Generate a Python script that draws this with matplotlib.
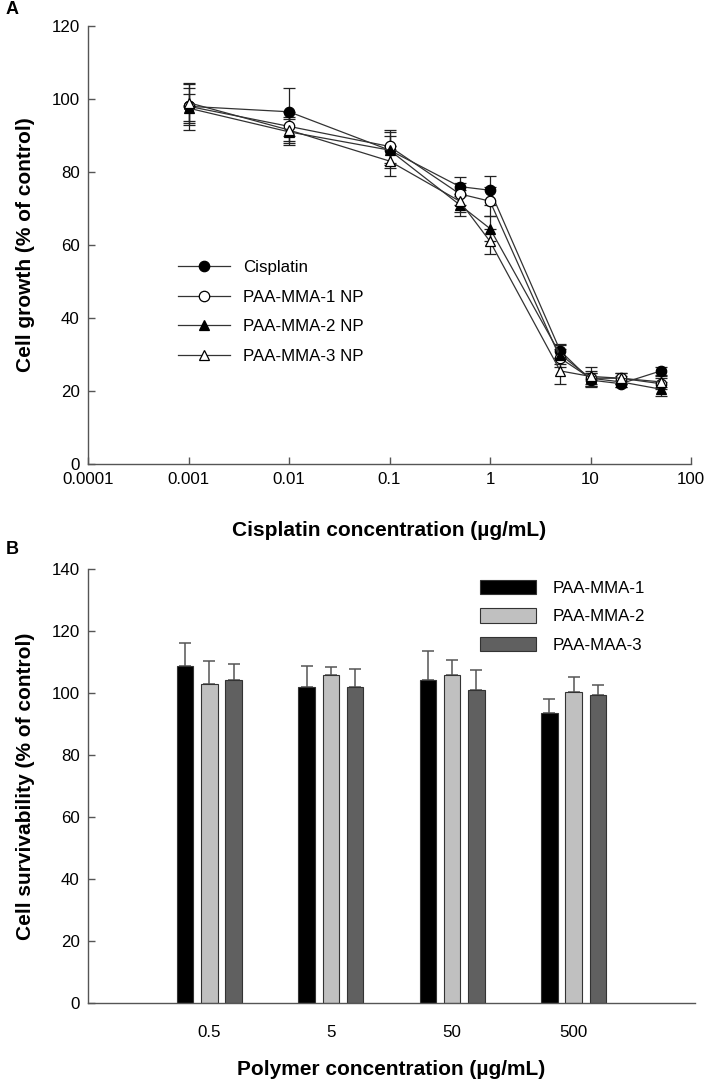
import matplotlib
matplotlib.use("Agg")
import matplotlib.pyplot as plt
from matplotlib.ticker import FixedLocator, FixedFormatter
from matplotlib.lines import Line2D

plt.rcParams['font.family'] = ['Liberation Sans', 'DejaVu Sans']

# ---------------- Panel A data ----------------
conc = [0.001, 0.01, 0.1, 0.5, 1, 5, 10, 20, 50]
series_names = ["Cisplatin", "PAA-MMA-1 NP", "PAA-MMA-2 NP", "PAA-MMA-3 NP"]
cisplatin = [98, 96.5, 86, 76, 75, 31, 23, 22, 25.5]
cisplatin_err = [6.5, 6.5, 5, 2.5, 4, 2, 2, 1, 1]
mma1 = [98, 92.5, 87, 74, 72, 29, 23.5, 23.5, 22]
mma1_err = [5, 4, 4.5, 3, 4, 2.5, 2, 1.5, 1.5]
mma2 = [97.5, 91, 86, 71, 64.5, 30, 23.5, 22.5, 20.5]
mma2_err = [4, 3.5, 4, 3, 3.5, 2.5, 1.5, 1.5, 2]
mma3 = [99, 91.5, 83, 72, 61, 25.5, 24, 23.5, 22.5]
mma3_err = [5, 3.5, 4, 3, 3.5, 3.5, 2.5, 1.5, 1.5]
a_xticks = [0.0001, 0.001, 0.01, 0.1, 1, 10, 100]
a_xticklabels = ["0.0001", "0.001", "0.01", "0.1", "1", "10", "100"]

# ---------------- Panel B data ----------------
polymer_conc = ["0.5", "5", "50", "500"]
bar_names = ["PAA-MMA-1", "PAA-MMA-2", "PAA-MAA-3"]
b_mma1 = [108.7, 101.9, 104.2, 93.6]
b_mma1_err = [7.3, 6.8, 9.4, 4.4]
b_mma2 = [102.8, 105.7, 105.7, 100.2]
b_mma2_err = [7.4, 2.8, 5.0, 5.1]
b_maa3 = [104.1, 101.9, 101.1, 99.3]
b_maa3_err = [5.3, 5.9, 6.2, 3.3]

W, H = 707, 1084
fig = plt.figure(figsize=(W / 100, H / 100), dpi=100)

def fx(px):
    return px / W

def fy(py):
    return 1 - py / H

axis_col = "#555555"
tick_fs = 12.2
lab_fs = 15
leg_fs = 12.2

# ---------------- Panel A ----------------
axA = fig.add_axes([fx(88), fy(464), fx(691) - fx(88), fy(26) - fy(464)])
markers = [("o", "black"), ("o", "white"), ("^", "black"), ("^", "white")]
vals = [cisplatin, mma1, mma2, mma3]
errs = [cisplatin_err, mma1_err, mma2_err, mma3_err]
handles = []
for name, v, e, (m, fc) in zip(series_names, vals, errs, markers):
    style = dict(marker=m, markersize=7.5, markerfacecolor=fc,
                 markeredgecolor="black", markeredgewidth=0.9, color="#333333",
                 linewidth=0.9)
    axA.errorbar(conc, v, yerr=e, ecolor="#222222", elinewidth=0.9, capsize=4,
                 capthick=0.9, **style)
    handles.append(Line2D([], [], label=name, **style))
axA.set_xscale("log")
axA.set_xlim(0.0001, 100)
axA.set_ylim(0, 120)
axA.set_yticks(range(0, 121, 20))
axA.xaxis.set_major_locator(FixedLocator(a_xticks))
axA.xaxis.set_major_formatter(FixedFormatter(a_xticklabels))
axA.xaxis.set_minor_locator(FixedLocator([]))
for s in ["top", "right"]:
    axA.spines[s].set_visible(False)
for s in ["left", "bottom"]:
    axA.spines[s].set_color(axis_col)
    axA.spines[s].set_linewidth(1.0)
axA.tick_params(direction="in", length=5, width=1, color=axis_col,
                labelsize=tick_fs, pad=6)
axA.set_ylabel("Cell growth (% of control)", fontsize=lab_fs, fontweight="bold",
               labelpad=12)
axA.set_xlabel("Cisplatin concentration (µg/mL)", fontsize=lab_fs,
               fontweight="bold", labelpad=24)
axA.legend(handles=handles, loc="upper left", bbox_to_anchor=(0.149, 0.465),
           frameon=False, fontsize=leg_fs, handlelength=3.1, handletextpad=0.75,
           labelspacing=0.85, borderpad=0, borderaxespad=0)

fig.text(fx(6), fy(10), "A", fontsize=13, fontweight="bold", va="center", ha="left")

# ---------------- Panel B ----------------
axB = fig.add_axes([fx(88), fy(1003), fx(695) - fx(88), fy(569) - fy(1003)])
pos = [1, 2, 3, 4]
bw = 0.136
step = 0.2
colors = ["#000000", "#c0c0c0", "#606060"]
bvals = [b_mma1, b_mma2, b_maa3]
berrs = [b_mma1_err, b_mma2_err, b_maa3_err]
for i, (name, v, e, c) in enumerate(zip(bar_names, bvals, berrs, colors)):
    xs = [p + (i - 1) * step for p in pos]
    axB.bar(xs, v, width=bw, color=c, edgecolor="#333333", linewidth=0.8,
            label=name, zorder=2)
    axB.errorbar(xs, v, yerr=[[0] * len(e), e], fmt="none", ecolor="#555555",
                 elinewidth=1.1, capsize=4.5, capthick=1.1, zorder=1)
axB.set_xlim(0, 5)
axB.set_ylim(0, 140)
axB.set_yticks(range(0, 141, 20))
axB.set_xticks(pos)
axB.set_xticklabels(polymer_conc)
for s in ["top", "right"]:
    axB.spines[s].set_visible(False)
for s in ["left", "bottom"]:
    axB.spines[s].set_color(axis_col)
    axB.spines[s].set_linewidth(1.0)
axB.tick_params(axis="y", direction="in", length=5, width=1, color=axis_col,
                labelsize=tick_fs, pad=6)
axB.tick_params(axis="x", length=0, labelsize=tick_fs, pad=16)
axB.set_ylabel("Cell survivability (% of control)", fontsize=lab_fs,
               fontweight="bold", labelpad=12)
axB.set_xlabel("Polymer concentration (µg/mL)", fontsize=lab_fs,
               fontweight="bold", labelpad=14)
axB.legend(loc="upper left", bbox_to_anchor=(0.646, 0.975), frameon=False,
           fontsize=leg_fs, handlelength=3.3, handleheight=0.9, handletextpad=1.0,
           labelspacing=0.75, borderpad=0, borderaxespad=0)

fig.text(fx(6), fy(549), "B", fontsize=13, fontweight="bold", va="center", ha="left")

fig.savefig("out.png", dpi=100)
